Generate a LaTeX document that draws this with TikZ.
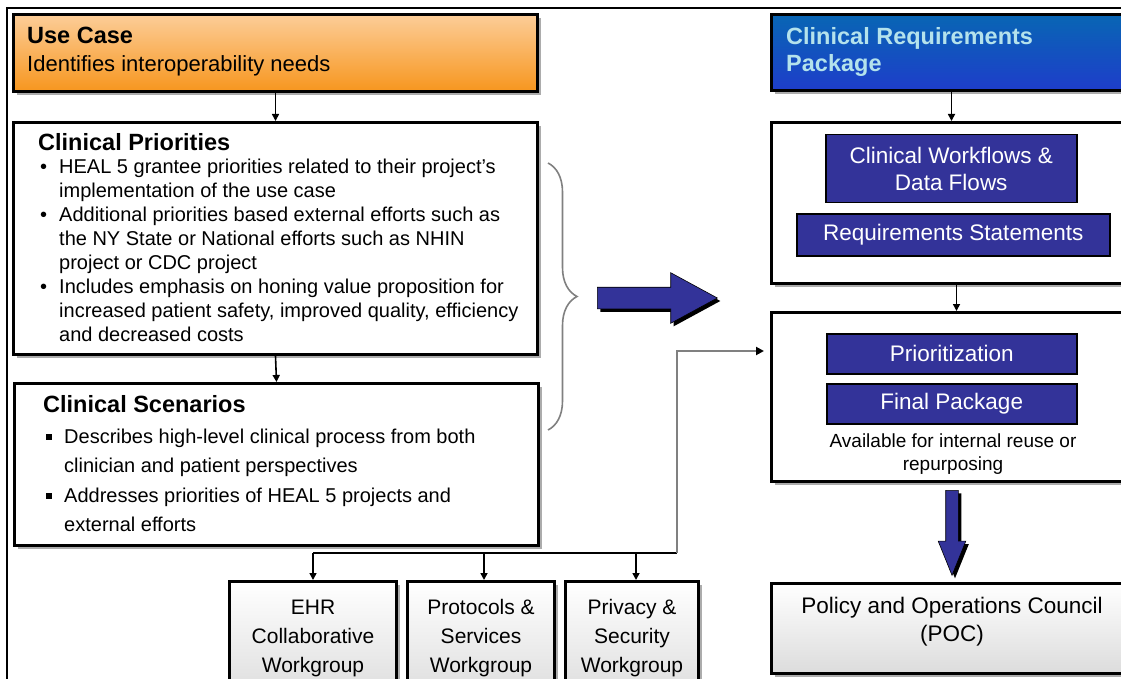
\documentclass[tikz,border=0pt]{standalone}
\usepackage{fontspec}
\setmainfont{Liberation Sans}
\usetikzlibrary{shadows,shapes.arrows,decorations.pathreplacing,arrows.meta}
\definecolor{navy}{HTML}{333399}
\definecolor{ucTop}{HTML}{FCCD98}
\definecolor{ucBot}{HTML}{F7961E}
\definecolor{crpTop}{HTML}{0866B4}
\definecolor{crpBot}{HTML}{1E3DCA}
\definecolor{crpText}{HTML}{B4E2EC}
\definecolor{wgBot}{HTML}{DCDCDC}
\definecolor{linkgray}{HTML}{808080}
\newcommand\textrows[2]{\begin{tabular}[t]{@{}#1@{}}#2\end{tabular}}
\newcommand\sqbullet{\rule[3pt]{6pt}{6pt}}

\begin{document}
\begin{tikzpicture}[x=1pt,y=-1pt,
  panel/.style={draw=black, line width=3pt, fill=white, inner sep=0pt, anchor=north west,
    drop shadow={shadow xshift=3.2pt, shadow yshift=-3.2pt, fill=gray!65, opacity=1}},
  greypanel/.style={panel, top color=white, bottom color=wgBot},
  innerbox/.style={draw=black, line width=1.5pt, fill=navy, inner sep=0pt, anchor=north west,
    text=white, align=center, font=\fontsize{22.5}{27}\selectfont},
  lbl/.style={inner sep=0pt, anchor=base west},
  ctext/.style={inner sep=0pt, anchor=base},
  conn/.style={line width=1.6pt, -{Triangle[length=7pt,width=7pt]}},
  grayconn/.style={linkgray, line width=2.6pt, shorten >=6pt,
    -{Triangle[length=8pt,width=8pt,color=black]}},
  blockarrow/.style={single arrow, fill=navy, draw=black, line width=0.6pt,
    single arrow head indent=0pt,
    drop shadow={shadow xshift=3pt, shadow yshift=-3pt, fill=black, opacity=1}},
  bodyfont/.style={font=\fontsize{20}{24}\selectfont},
  headfont/.style={font=\bfseries\fontsize{23.5}{27}\selectfont},
]
\useasboundingbox (0,0) rectangle (1121,679);

% outer frame (right and bottom edges lie beyond the page)
\draw[line width=2pt] (7,8) rectangle (1160,720);

% ---------- left column ----------
\node[panel, top color=ucTop, bottom color=ucBot, minimum width=524pt, minimum height=77pt]
  (usecase) at (12,13) {};
\node[lbl, headfont] (uctitle) at (27,44) {Use Case};
\node[lbl, font=\fontsize{22}{26}\selectfont] (ucsub) at (27,72) {Identifies interoperability needs};

\node[panel, minimum width=524pt, minimum height=232pt] (prio) at (12,121) {};
\node[lbl, headfont] (priotitle) at (38,151) {Clinical Priorities};
\node[lbl, bodyfont] (priotext) at (40,174) {\textrows{l@{\hspace{12pt}}l}{%
  \textbullet & HEAL 5 grantee priorities related to their project's\\
   & implementation of the use case\\
  \textbullet & Additional priorities based external efforts such as\\
   & the NY State or National efforts such as NHIN\\
   & project or CDC project\\
  \textbullet & Includes emphasis on honing value proposition for\\
   & increased patient safety, improved quality, efficiency\\
   & and decreased costs}};

\node[panel, minimum width=524pt, minimum height=162pt] (scen) at (13,382) {};
\node[lbl, headfont] (scentitle) at (43,412) {Clinical Scenarios};
\node[lbl, font=\fontsize{20}{29.5}\selectfont] (scentext) at (46,443) {\textrows{l@{\hspace{12pt}}l}{%
  \sqbullet & Describes high-level clinical process from both\\
   & clinician and patient perspectives\\
  \sqbullet & Addresses priorities of HEAL 5 projects and\\
   & external efforts}};

\draw[conn] (usecase.south) -- (prio.north);
\draw[conn] (prio.south) -- (scen.north);

% brace gathering the two boxes
\draw[decorate, decoration={brace, amplitude=29pt}, gray, line width=1.6pt] (548,163) -- (548,430);

% big block arrow
\node[blockarrow, minimum height=120pt, inner sep=10.5pt, single arrow head extend=14.5pt,
  single arrow tip angle=57, anchor=tail] (bigarrow) at (597,298) {};

% ---------- right column ----------
\node[panel, top color=crpTop, bottom color=crpBot, minimum width=360pt, minimum height=76pt]
  (crp) at (770,13) {};
\node[lbl, headfont, text=crpText] (crptitle) at (786,45) {Clinical Requirements};
\node[lbl, headfont, text=crpText] (crpsub) at (786,72) {Package};

\node[panel, minimum width=360pt, minimum height=161pt] (reqs) at (770,121) {};
\node[innerbox, minimum width=251pt, minimum height=68pt] (flows) at (825,134)
  {Clinical Workflows \&\\Data Flows};
\node[innerbox, minimum width=313pt, minimum height=42pt] (stmts) at (796,213)
  {Requirements Statements};

\node[panel, minimum width=360pt, minimum height=169pt] (final) at (770,311) {};
\node[innerbox, minimum width=250pt, minimum height=40pt] (prior) at (826,333) {Prioritization};
\node[innerbox, minimum width=250pt, minimum height=40pt] (fpack) at (826,383) {Final Package};
\node[ctext, font=\fontsize{19}{23.5}\selectfont] (avail) at (953,447)
  {\textrows{c}{Available for internal reuse or\\repurposing}};

\draw[conn] (crp.south) -- (reqs.north);
\draw[conn] ([xshift=5pt]reqs.south) -- ([xshift=5pt]final.north);

% down block arrow
\node[blockarrow, minimum height=85pt, inner sep=6pt, single arrow head extend=7.5pt,
  single arrow tip angle=44, shape border rotate=270, anchor=tail] (downarrow) at (952,490) {};

\node[greypanel, minimum width=360pt, minimum height=90pt] (poc) at (770,582) {};
\node[ctext, font=\fontsize{22.5}{28}\selectfont] (poctext) at (952,613)
  {\textrows{c}{Policy and Operations Council\\(POC)}};

% ---------- workgroups ----------
\node[greypanel, minimum width=167pt, minimum height=120pt] (ehr) at (228,580) {};
\node[greypanel, minimum width=147pt, minimum height=120pt] (proto) at (406,580) {};
\node[greypanel, minimum width=133pt, minimum height=120pt] (priv) at (564,580) {};
\node[ctext, font=\fontsize{21}{29}\selectfont] (ehrtext) at (ehr.north |- 0,614)
  {\textrows{c}{EHR\\Collaborative\\Workgroup}};
\node[ctext, font=\fontsize{21}{29}\selectfont] (prototext) at (proto.north |- 0,614)
  {\textrows{c}{Protocols \&\\Services\\Workgroup}};
\node[ctext, font=\fontsize{21}{29}\selectfont] (privtext) at (priv.north |- 0,614)
  {\textrows{c}{Privacy \&\\Security\\Workgroup}};

\coordinate (busL) at (313,553);
\coordinate (busM) at (484,553);
\coordinate (busN) at (636,553);
\coordinate (busR) at (677,553);
\draw[line width=2pt] (busL) -- (busR);
\draw[conn] (busL) -- (busL |- ehr.north);
\draw[conn] (busM) -- (busM |- proto.north);
\draw[conn] (busN) -- (busN |- priv.north);

% feedback link into the prioritization stage
\draw[grayconn] (busR) |- (final.west |- 0,351);
\end{tikzpicture}
\end{document}
